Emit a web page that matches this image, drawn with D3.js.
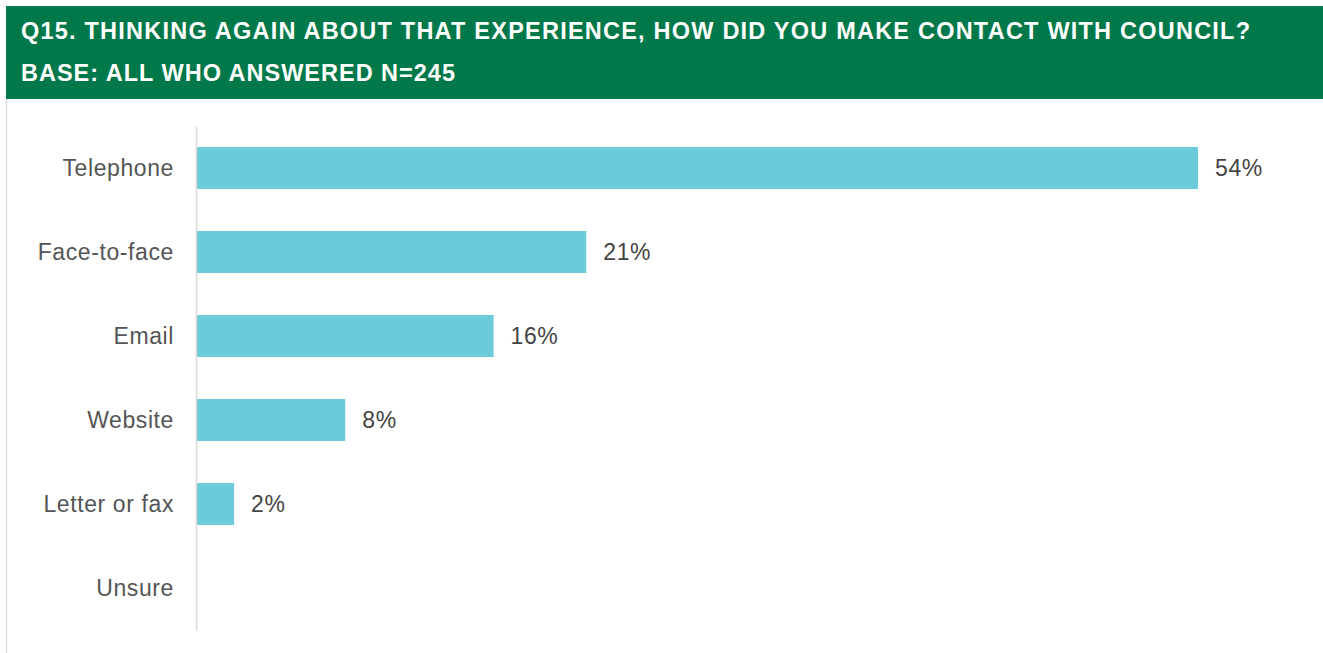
<!DOCTYPE html>
<html>
<head>
<meta charset="utf-8">
<script src="https://cdn.jsdelivr.net/npm/d3@7"></script>
<style>
  html, body { margin: 0; padding: 0; background: #fff; }
  svg { display: block; font-family: "Liberation Sans", Arial, Helvetica, sans-serif; }
</style>
</head>
<body>
<svg id="chart" width="1323" height="653"></svg>
<script>
// Survey question and base
const titleLines = [
  "Q15. THINKING AGAIN ABOUT THAT EXPERIENCE, HOW DID YOU MAKE CONTACT WITH COUNCIL?",
  "BASE: ALL WHO ANSWERED N=245"
];

// Contact methods and share of respondents (%)
const categories = ["Telephone", "Face-to-face", "Email", "Website", "Letter or fax", "Unsure"];
const values = [54, 21, 16, 8, 2, null];

const svg = d3.select("#chart");

// Header band
svg.append("rect")
  .attr("x", 6).attr("y", 6)
  .attr("width", 1317).attr("height", 93)
  .attr("fill", "#00784a");

const titleWidths = [1229, 434];
svg.selectAll("text.title")
  .data(titleLines)
  .enter().append("text")
  .attr("class", "title")
  .attr("x", 21)
  .attr("y", (d, i) => 39 + i * 42)
  .attr("fill", "#ffffff")
  .attr("font-size", 23.5)
  .attr("font-weight", "bold")
  .attr("textLength", (d, i) => titleWidths[i])
  .attr("lengthAdjust", "spacing")
  .text(d => d);

// Panel frame on the left
svg.append("line")
  .attr("x1", 6.5).attr("x2", 6.5)
  .attr("y1", 99).attr("y2", 653)
  .attr("stroke", "#dcdcdc").attr("stroke-width", 1.5);

// Scales
const x = d3.scaleLinear().domain([0, 54]).range([197, 1198]);
const y = d3.scaleBand().domain(categories).range([126, 630]).paddingInner(0.5).paddingOuter(0.25);

const rows = categories.map((c, i) => ({ c, v: values[i] })).filter(d => d.v != null);

// Bars
svg.selectAll("rect.bar")
  .data(rows)
  .enter().append("rect")
  .attr("class", "bar")
  .attr("x", x(0))
  .attr("y", d => y(d.c))
  .attr("width", d => x(d.v) - x(0))
  .attr("height", y.bandwidth())
  .attr("fill", "#6ccbd8");

// Value labels
svg.selectAll("text.value")
  .data(rows)
  .enter().append("text")
  .attr("class", "value")
  .attr("x", d => x(d.v) + 17)
  .attr("y", d => y(d.c) + y.bandwidth() / 2)
  .attr("dy", "0.34em")
  .attr("fill", "#444444")
  .attr("font-size", 23)
  .attr("letter-spacing", 0.6)
  .text(d => d.v + "%");

// Category axis
const axis = svg.append("g")
  .attr("transform", `translate(${x(0) - 1},0)`)
  .call(d3.axisLeft(y).tickSize(0).tickPadding(22));

axis.select(".domain").attr("stroke", "#d9d9d9").attr("stroke-width", 1.5);
axis.selectAll("text")
  .attr("font-size", 23)
  .attr("letter-spacing", 0.6)
  .attr("dy", "0.34em")
  .attr("fill", "#555555")
  .attr("font-family", "'Liberation Sans', Arial, sans-serif");
</script>
</body>
</html>
